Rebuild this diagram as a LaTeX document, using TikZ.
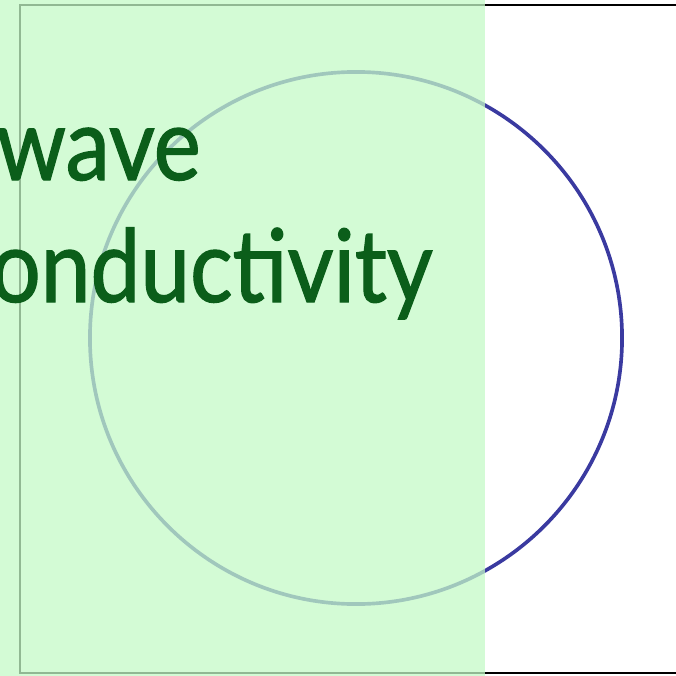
\documentclass[tikz,border=0pt]{standalone}
\usepackage{fontspec}
\setmainfont{Lato}
\newfontfamily\wordfont[FakeStretch=0.88,FakeBold=1.2]{Lato}
\usepackage{tikz}
\usetikzlibrary{positioning}
\usepackage{xcolor}
\definecolor{fring}{HTML}{3A3AA0}
\definecolor{fpanel}{RGB}{196,249,199}
\definecolor{fword}{HTML}{0B5E1A}
\tikzset{
  frame/.style = {draw=black, line width=1.6pt},
  ring/.style  = {draw=fring, line width=2.6pt, circle, inner sep=0pt, minimum size=13.3cm},
  panel/.style = {fill=fpanel, fill opacity=0.74, draw=none},
  word/.style  = {text=fword, font=\wordfont\fontsize{72}{80}\selectfont, inner sep=0pt},
}

\begin{document}
\begin{tikzpicture}[x=0.025cm,y=-0.025cm]
\useasboundingbox (0,0) rectangle (676,676);
\clip (0,0) rectangle (676,676);
% ---- outer frame and ring ----
\draw[frame] (20,5) rectangle (700,673);
\node[ring] (orb) at (356,338) {};
% ---- shaded panel ----
\fill[panel] (-5,-5) rectangle (485,690);
% ---- words ----
\node[word, anchor=base east] (top) at (201,180) {wave};
\node[word, anchor=base east] (bottom) at (433,302) {onductivity};
\end{tikzpicture}
\end{document}
